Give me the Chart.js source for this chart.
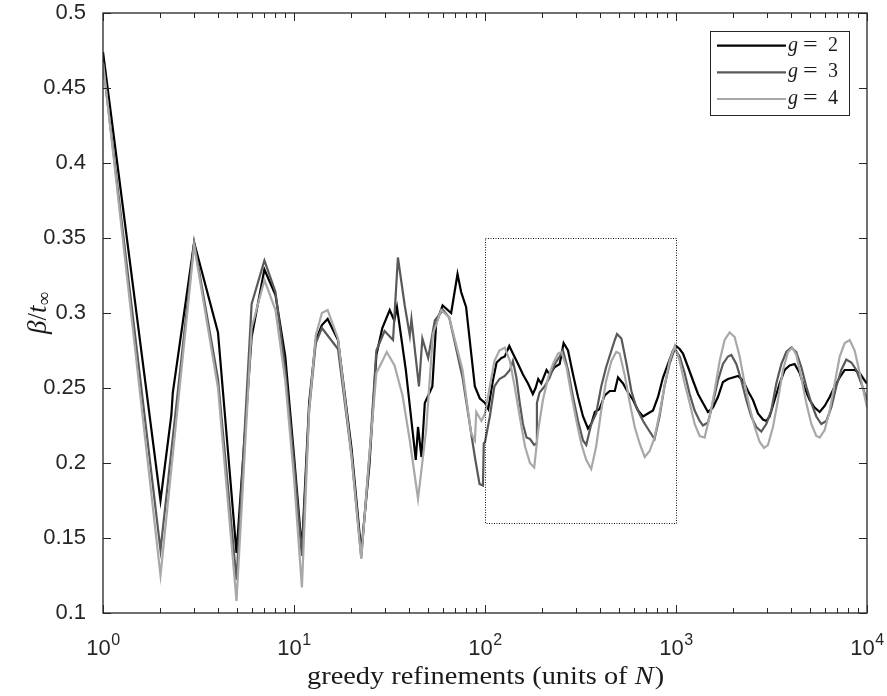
<!DOCTYPE html>
<html><head><meta charset="utf-8">
<script src="https://cdn.jsdelivr.net/npm/chart.js@4.4.1/dist/chart.umd.min.js"></script>
<style>html,body{margin:0;padding:0;background:#fff}#wrap{width:887px;height:696px;position:relative}</style>
</head><body><div id="wrap"><canvas id="c" width="887" height="696"></canvas></div>
<script>
// ---- data ----
const seriesNames = ['2', '3', '4']; // g = 2, 3, 4
const seriesColors = ['#000000', '#595959', '#a8a8a8'];

const g2X = [1,2,2.28,2.32,3,4,5,6,7,8,
  9,10,11,12,13,14,15,17,20,22.5,
  24.8,25,27,29,31.7,33.5,34.6,38.5,43.4,44.6,
  46.5,48.4,53,55.5,60,66.5,71.8,75,79.6,88.5,
  94,100,104,110,115,122,127,134,140,149,
  158,168,178,184,190,197,210,218,232,246,
  258,272,289,307,326,346,360,376,398,423,
  450,478,497,528,561,596,633,672,713,758,
  805,855,908,965,1000,1045,1088,1156,1227,1304,
  1384,1470,1561,1658,1761,1871,1987,2111,2242,2381,
  2529,2686,2853,2969,3091,3283,3488,3705,3935,4180,
  4439,4716,5010,5320,5653,6003,6377,6773,7195,7642,
  8118,8622,9158,9728,10000];
const g2Y = [0.474,0.175,0.232,0.247,0.347,0.287,0.140,0.284,0.329,0.312,
  0.271,0.205,0.142,0.240,0.282,0.292,0.296,0.282,0.210,0.141,
  0.198,0.205,0.272,0.290,0.302,0.295,0.304,0.262,0.202,0.224,
  0.204,0.240,0.251,0.293,0.305,0.300,0.326,0.314,0.304,0.251,
  0.243,0.240,0.236,0.255,0.267,0.270,0.271,0.278,0.273,0.266,
  0.259,0.253,0.246,0.250,0.256,0.253,0.262,0.259,0.264,0.266,
  0.280,0.275,0.259,0.244,0.231,0.223,0.226,0.234,0.236,0.245,
  0.248,0.248,0.257,0.253,0.247,0.242,0.235,0.231,0.233,0.235,
  0.244,0.257,0.266,0.275,0.278,0.276,0.273,0.264,0.255,0.246,
  0.240,0.234,0.237,0.244,0.254,0.256,0.257,0.258,0.255,0.248,
  0.242,0.233,0.229,0.228,0.231,0.242,0.253,0.262,0.265,0.266,
  0.260,0.250,0.242,0.237,0.234,0.238,0.244,0.251,0.257,0.262,
  0.262,0.262,0.260,0.255,0.253];

const g3X = [1,2,3,4,5,6,7,8,9,10,
  11,12,13,14,15,17,20,22.5,25,27,
  29.8,33,35,38,40.4,41.2,45.1,47,50.4,54.6,
  60.3,65,76.3,88.5,93.6,97.6,98.5,100,106,112,
  119,127,135,140,146,152,158,165,172,181,
  185,187,193,205,218,232,246,256,272,289,
  307,326,339,360,382,406,431,459,478,491,
  518,551,584,620,672,728,772,820,870,925,
  985,1045,1110,1179,1252,1330,1384,1470,1561,1658,
  1761,1871,1948,2069,2198,2334,2479,2633,2797,2970,
  3155,3350,3560,3780,4015,4264,4530,4810,5110,5427,
  5765,6123,6504,6908,7337,7793,8278,8792,9338,10000];
const g3Y = [0.466,0.142,0.347,0.256,0.122,0.306,0.335,0.314,0.262,0.200,
  0.138,0.235,0.280,0.290,0.285,0.276,0.205,0.137,0.210,0.275,
  0.288,0.282,0.337,0.305,0.285,0.296,0.251,0.283,0.270,0.295,
  0.302,0.297,0.257,0.204,0.186,0.185,0.213,0.214,0.231,0.251,
  0.256,0.258,0.262,0.268,0.257,0.240,0.226,0.217,0.216,0.212,
  0.213,0.240,0.247,0.251,0.257,0.266,0.271,0.275,0.262,0.244,
  0.228,0.215,0.212,0.226,0.233,0.251,0.264,0.275,0.282,0.286,
  0.283,0.266,0.248,0.237,0.228,0.221,0.216,0.231,0.251,0.266,
  0.276,0.271,0.260,0.246,0.235,0.228,0.225,0.227,0.240,0.255,
  0.266,0.271,0.272,0.266,0.255,0.242,0.231,0.224,0.221,0.226,
  0.235,0.253,0.266,0.274,0.277,0.274,0.264,0.251,0.240,0.231,
  0.226,0.228,0.237,0.251,0.262,0.269,0.267,0.262,0.253,0.242];

const g4X = [1,2,3,4,5,6,7,8,9,10,
  11,12,13,14,15,17,20,22.5,25,27,
  30.6,33.6,37,40.4,44.6,49.2,53.4,59,65,76.3,
  84.5,88.5,90,95.8,100,106,112,119,127,135,
  143,152,162,172,181,190,201,214,227,241,
  251,267,283,301,319,339,360,382,406,431,
  459,487,507,538,573,608,645,686,728,772,
  820,870,925,985,1045,1110,1179,1252,1330,1412,
  1500,1593,1692,1797,1909,2028,2154,2288,2431,2582,
  2742,2891,3029,3219,3419,3632,3858,4060,4264,4530,
  4810,5110,5427,5653,6003,6377,6773,7195,7642,8118,
  8622,9158,9728,10000];
const g4Y = [0.467,0.125,0.345,0.250,0.108,0.290,0.322,0.302,0.255,0.190,
  0.117,0.235,0.285,0.300,0.302,0.283,0.205,0.136,0.210,0.260,
  0.274,0.265,0.245,0.215,0.176,0.222,0.286,0.302,0.297,0.262,
  0.220,0.215,0.234,0.228,0.233,0.251,0.268,0.275,0.277,0.268,
  0.251,0.231,0.211,0.200,0.197,0.222,0.242,0.257,0.266,0.273,
  0.274,0.264,0.246,0.228,0.213,0.202,0.196,0.211,0.235,0.255,
  0.268,0.274,0.273,0.259,0.240,0.224,0.213,0.204,0.208,0.217,
  0.233,0.251,0.268,0.278,0.268,0.253,0.240,0.226,0.218,0.217,
  0.231,0.248,0.268,0.282,0.287,0.284,0.271,0.253,0.237,0.224,
  0.214,0.210,0.212,0.224,0.242,0.262,0.274,0.277,0.272,0.257,
  0.240,0.226,0.218,0.217,0.222,0.235,0.253,0.271,0.280,0.282,
  0.275,0.260,0.244,0.237];

const xTickExponents = [0, 1, 2, 3, 4];
const yTickValues = [0.1, 0.15, 0.2, 0.25, 0.3, 0.35, 0.4, 0.45, 0.5];
const zoomBoxX = [100, 1000];
const zoomBoxY = [0.16, 0.35];
const xTitle = 'greedy refinements (units of ';
const xTitleVar = 'N';

// ---- chart ----
const seriesXs = [g2X, g3X, g4X];
const seriesYs = [g2Y, g3Y, g4Y];
const datasets = seriesXs.map((xs, k) => ({
  label: 'g = ' + seriesNames[k],
  data: xs.map((x, i) => ({ x: x, y: seriesYs[k][i] })),
  borderColor: seriesColors[k],
  backgroundColor: seriesColors[k],
  borderWidth: 2.2,
  pointRadius: 0,
  tension: 0,
  fill: false,
  order: 3 - k
}));

const AX = '#262626';
const SANS = '"Liberation Sans", Arial, Helvetica, sans-serif';
const SERIF = '"Liberation Serif", "Times New Roman", serif';

const decor = {
  id: 'decor',
  afterDraw(chart) {
    const ctx = chart.ctx;
    const xs = chart.scales.x, ys = chart.scales.y;
    const a = chart.chartArea;
    ctx.save();
    // dotted zoom box
    ctx.strokeStyle = '#111';
    ctx.lineWidth = 1;
    ctx.setLineDash([1, 1.5]);
    const bx0 = Math.round(xs.getPixelForValue(zoomBoxX[0])) + 0.5;
    const bx1 = Math.round(xs.getPixelForValue(zoomBoxX[1])) + 0.5;
    const by0 = Math.round(ys.getPixelForValue(zoomBoxY[0])) + 0.5;
    const by1 = Math.round(ys.getPixelForValue(zoomBoxY[1])) + 0.5;
    ctx.strokeRect(bx0, by1, bx1 - bx0, by0 - by1);
    ctx.setLineDash([]);

    // axes box
    ctx.strokeStyle = AX;
    ctx.lineWidth = 1.3;
    ctx.strokeRect(a.left, a.top, a.right - a.left, a.bottom - a.top);

    // ticks
    ctx.lineWidth = 1;
    ctx.beginPath();
    const major = 8, minor = 5;
    for (let e = 0; e <= 4; e++) {
      for (let k = 1; k <= 9; k++) {
        const v = k * Math.pow(10, e);
        if (v > 10000) break;
        const px = Math.round(xs.getPixelForValue(v)) + 0.5;
        const L = k === 1 ? major : minor;
        ctx.moveTo(px, a.bottom); ctx.lineTo(px, a.bottom - L);
        ctx.moveTo(px, a.top); ctx.lineTo(px, a.top + L);
      }
    }
    yTickValues.forEach(v => {
      const py = Math.round(ys.getPixelForValue(v)) + 0.5;
      ctx.moveTo(a.left, py); ctx.lineTo(a.left + major, py);
      ctx.moveTo(a.right, py); ctx.lineTo(a.right - major, py);
    });
    ctx.stroke();

    // x tick labels 10^n
    ctx.fillStyle = AX;
    ctx.textBaseline = 'alphabetic';
    ctx.textAlign = 'left';
    xTickExponents.forEach(e => {
      const px = xs.getPixelForValue(Math.pow(10, e));
      ctx.font = '22px ' + SANS;
      const w1 = ctx.measureText('10').width;
      ctx.font = '16px ' + SANS;
      const w2 = ctx.measureText(String(e)).width;
      const x0 = px - (w1 + w2) / 2;
      ctx.font = '22px ' + SANS;
      ctx.fillText('10', x0, 655);
      ctx.font = '16px ' + SANS;
      ctx.fillText(String(e), x0 + w1 + 0.5, 645);
    });

    // x title
    ctx.fillStyle = '#1a1a1a';
    ctx.font = '25px ' + SERIF;
    const t1 = ctx.measureText(xTitle).width;
    ctx.font = 'italic 25px ' + SERIF;
    const t2 = ctx.measureText(xTitleVar).width;
    ctx.font = '25px ' + SERIF;
    const t3 = ctx.measureText(')').width;
    const total = t1 + t2 + t3;
    const target = 356;
    const sx = target / total;
    const cx = (a.left + a.right) / 2;
    ctx.save();
    ctx.translate(cx - target / 2, 684);
    ctx.scale(sx, 1);
    ctx.font = '25px ' + SERIF;
    ctx.fillText(xTitle, 0, 0);
    ctx.font = 'italic 25px ' + SERIF;
    ctx.fillText(xTitleVar, t1, 0);
    ctx.font = '25px ' + SERIF;
    ctx.fillText(')', t1 + t2 + 1, 0);
    ctx.restore();

    // y title beta / t_inf
    ctx.save();
    ctx.translate(46, (a.top + a.bottom) / 2);
    ctx.rotate(-Math.PI / 2);
    const parts = [
      { t: '\u03B2', f: 'italic 27px ' + SERIF, dy: 0 },
      { t: '/', f: '27px ' + SERIF, dy: 0 },
      { t: 't', f: 'italic 27px ' + SERIF, dy: 0 },
      { t: '\u221E', f: '19px ' + SERIF, dy: 4 }
    ];
    let tw = 0;
    parts.forEach(p => { ctx.font = p.f; p.w = ctx.measureText(p.t).width; tw += p.w; });
    let xx = -tw / 2;
    parts.forEach(p => { ctx.font = p.f; ctx.fillText(p.t, xx, p.dy); xx += p.w; });
    ctx.restore();

    // legend
    const lx0 = 710.5, ly0 = 31.5, lx1 = 849.5, ly1 = 115.5;
    ctx.fillStyle = '#fff';
    ctx.fillRect(lx0, ly0, lx1 - lx0, ly1 - ly0);
    ctx.strokeStyle = AX;
    ctx.lineWidth = 1;
    ctx.strokeRect(lx0, ly0, lx1 - lx0, ly1 - ly0);
    const rows = [45.7, 72.3, 99];
    seriesNames.forEach((n, i) => {
      const y = rows[i];
      ctx.strokeStyle = seriesColors[i];
      ctx.lineWidth = 2.2;
      ctx.beginPath(); ctx.moveTo(717, y); ctx.lineTo(786, y); ctx.stroke();
      ctx.fillStyle = '#1a1a1a';
      ctx.font = 'italic 20px ' + SERIF;
      ctx.fillText('g', 788, y + 5);
      ctx.save();
      ctx.translate(803, y + 5);
      ctx.scale(1.3, 1);
      ctx.font = '20px ' + SERIF;
      ctx.fillText('=', 0, 0);
      ctx.restore();
      ctx.font = '20px ' + SERIF;
      ctx.fillText(n, 828, y + 5);
    });
    ctx.restore();
  }
};

new Chart(document.getElementById('c'), {
  type: 'line',
  data: { datasets: datasets },
  plugins: [decor],
  options: {
    responsive: false,
    animation: false,
    events: [],
    layout: { padding: { left: 0, top: 13, right: 20, bottom: 0 } },
    plugins: { legend: { display: false }, tooltip: { enabled: false } },
    scales: {
      x: {
        type: 'logarithmic', min: 1, max: 10000,
        ticks: { display: false },
        grid: { display: false },
        border: { display: false },
        afterFit(s) { s.height = 83; s.paddingLeft = 0; s.paddingRight = 0; }
      },
      y: {
        type: 'linear', min: 0.1, max: 0.5,
        afterBuildTicks(s) { s.ticks = yTickValues.map(v => ({ value: v })); },
        ticks: {
          padding: 9,
          color: AX,
          font: { family: SANS, size: 22 },
          callback: v => String(+Number(v).toFixed(2))
        },
        grid: { display: false },
        border: { display: false },
        afterFit(s) { s.width = 103; s.paddingTop = 0; s.paddingBottom = 0; }
      }
    }
  }
});
</script>
</body></html>
